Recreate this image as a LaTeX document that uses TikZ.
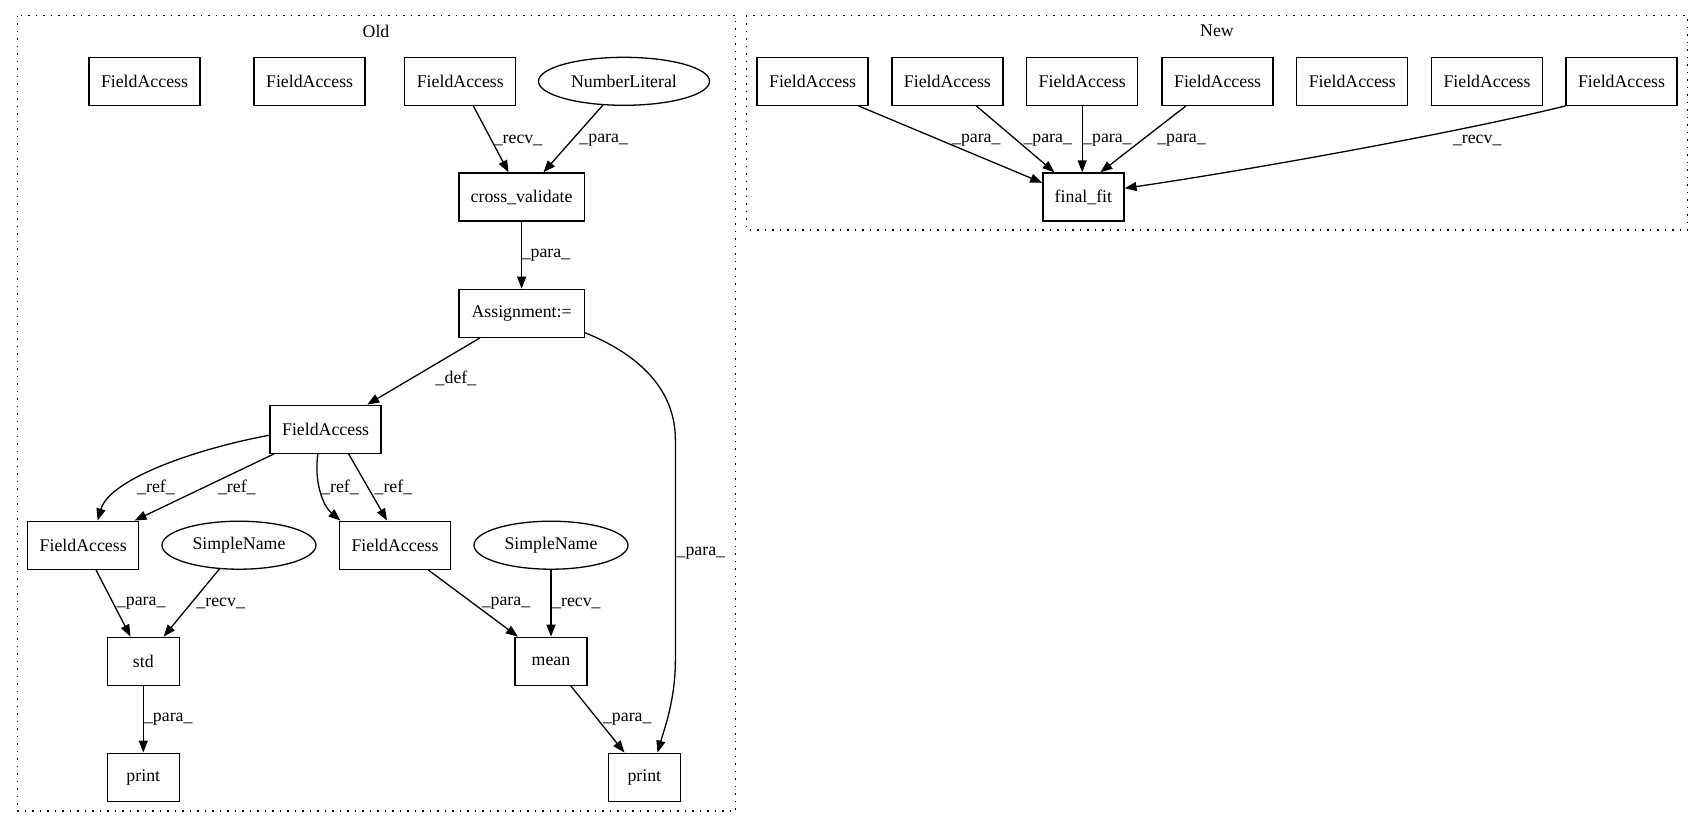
\documentclass[tikz,border=0pt]{standalone}
\usepackage{fontspec}
\setmainfont{Liberation Serif}
\usetikzlibrary{arrows.meta,shapes.geometric}
\tikzset{>={Triangle[length=12pt,width=9pt]}}

\begin{document}
\begin{tikzpicture}[x=1pt,y=-1pt,line width=1.3pt,font=\fontsize{17.8}{20}\selectfont,
    box/.style={rectangle, draw=black, minimum height=48pt, inner sep=0pt},
    fa/.style={box, minimum width=111pt},
    oval/.style={ellipse, draw=black, minimum height=48pt, inner sep=0pt},
    lbl/.style={inner sep=0pt},
    cluster/.style={draw=black, dash pattern=on 1.5pt off 6pt}]
            \useasboundingbox (0,0) rectangle (1704,828);

            % Old
            \draw[cluster] (17.4,15.7) rectangle (735.7,811);
            \node (oldtitle) at (376,31) {Old};

            \node[fa] (fa1) at (144.5,81.3) {FieldAccess};
            \node[fa] (fa2) at (309.6,81.3) {FieldAccess};
            \node[fa] (fa3) at (460.3,81.3) {FieldAccess};
            \node[oval, minimum width=171pt] (numlit) at (624,81.3) {NumberLiteral};

            \node[box, minimum width=125.5pt] (crossval) at (521.6,197) {cross\_validate};
            \draw [->] (fa3) -- (crossval);
            \node[lbl] (lrecv1) at (518,140) {\_recv\_};
            \draw [->] (numlit) -- (crossval);
            \node[lbl] (lpara1) at (603.7,140) {\_para\_};

            \node[box, minimum width=125.5pt] (assign) at (521.6,313.3) {Assignment:=};
            \draw [->] (crossval) -- (assign);
            \node[lbl] (lpara2) at (546,255) {\_para\_};

            \node[fa] (fadef) at (325.6,429.2) {FieldAccess};
            \draw [->] (assign) -- (fadef);
            \node[lbl] (ldef) at (456,378) {\_def\_};

            \node[fa] (faleft) at (83.2,545.2) {FieldAccess};
            \node[oval, minimum width=154pt] (snleft) at (239,545.2) {SimpleName};
            \node[fa] (faright) at (395,545.2) {FieldAccess};
            \node[oval, minimum width=154pt] (snright) at (551,545.2) {SimpleName};

            \draw [->] ([yshift=-6pt]fadef.west) .. controls (200,448) and (110,478) .. ([xshift=14.4pt]faleft.north);
            \node[lbl] (lref1) at (156,487) {\_ref\_};
            \draw [->] (fadef) -- (faleft);
            \node[lbl] (lref2) at (236.8,487) {\_ref\_};
            \draw [->] ([xshift=-7.7pt]fadef.south) .. controls (314,480) and (322,505) .. ([xshift=-54.5pt]faright.north);
            \node[lbl] (lref3) at (340,487) {\_ref\_};
            \draw [->] ([xshift=23pt]fadef.south) -- ([xshift=-8pt]faright.north);
            \node[lbl] (lref4) at (393.4,487) {\_ref\_};

            \node[box, minimum width=72pt] (std) at (143.3,661.3) {std};
            \draw [->] (faleft) -- (std);
            \node[lbl] (lpara3) at (141.2,603.3) {\_para\_};
            \draw [->] (snleft) -- (std);
            \node[lbl] (lrecv2) at (220.7,603.3) {\_recv\_};

            \node[box, minimum width=72pt] (mean) at (551,661.3) {mean};
            \draw [->] (faright) -- (mean);
            \node[lbl] (lpara4) at (506,603.3) {\_para\_};
            \draw [->] (snright) -- (mean);
            \node[lbl] (lrecv3) at (576.4,603.3) {\_recv\_};

            \node[box, minimum width=72pt] (printl) at (143.3,777.2) {print};
            \draw [->] (std) -- (printl);
            \node[lbl] (lpara5) at (168.3,719.3) {\_para\_};

            \node[box, minimum width=72pt] (printr) at (644.3,777.2) {print};
            \draw [->] (mean) -- (printr);
            \node[lbl] (lpara6) at (627.3,719.3) {\_para\_};
            \draw [->] (assign.-17) .. controls (640,355) and (675.4,390) .. (675.4,440) -- (675.4,660)
                .. controls (675.4,700) and (664,730) .. ([xshift=13.2pt]printr.north);
            \node[lbl] (lpara7) at (700.9,553.3) {\_para\_};

            % New
            \draw[cluster] (746.4,15.7) rectangle (1687.6,230);
            \node (newtitle) at (1217,31) {New};

            \node[fa] (nf1) at (812.6,81.3) {FieldAccess};
            \node[fa] (nf2) at (947.4,81.3) {FieldAccess};
            \node[fa] (nf3) at (1082.2,81.3) {FieldAccess};
            \node[fa] (nf4) at (1217.6,81.3) {FieldAccess};
            \node[fa] (nf5) at (1352.3,81.3) {FieldAccess};
            \node[fa] (nf6) at (1487,81.3) {FieldAccess};
            \node[fa] (nf7) at (1621.5,81.3) {FieldAccess};

            \node[box, minimum width=81pt] (finalfit) at (1083.4,197) {final\_fit};
            \draw [->] ([xshift=46pt]nf1.south) -- (finalfit.161);
            \node[lbl] (npara1) at (976.3,140) {\_para\_};
            \draw [->] (nf2) -- (finalfit);
            \node[lbl] (npara2) at (1047.7,140) {\_para\_};
            \draw [->] (nf3.south) -- (nf3.south |- finalfit.north);
            \node[lbl] (npara3) at (1107.4,140) {\_para\_};
            \draw [->] (nf4) -- ([xshift=17pt]finalfit.north);
            \node[lbl] (npara4) at (1181.5,140) {\_para\_};
            \draw [->] (nf7.south west) .. controls (1460,132) and (1250,170) .. (finalfit.12);
            \node[lbl] (nrecv1) at (1477.2,140) {\_recv\_};
\end{tikzpicture}
\end{document}
